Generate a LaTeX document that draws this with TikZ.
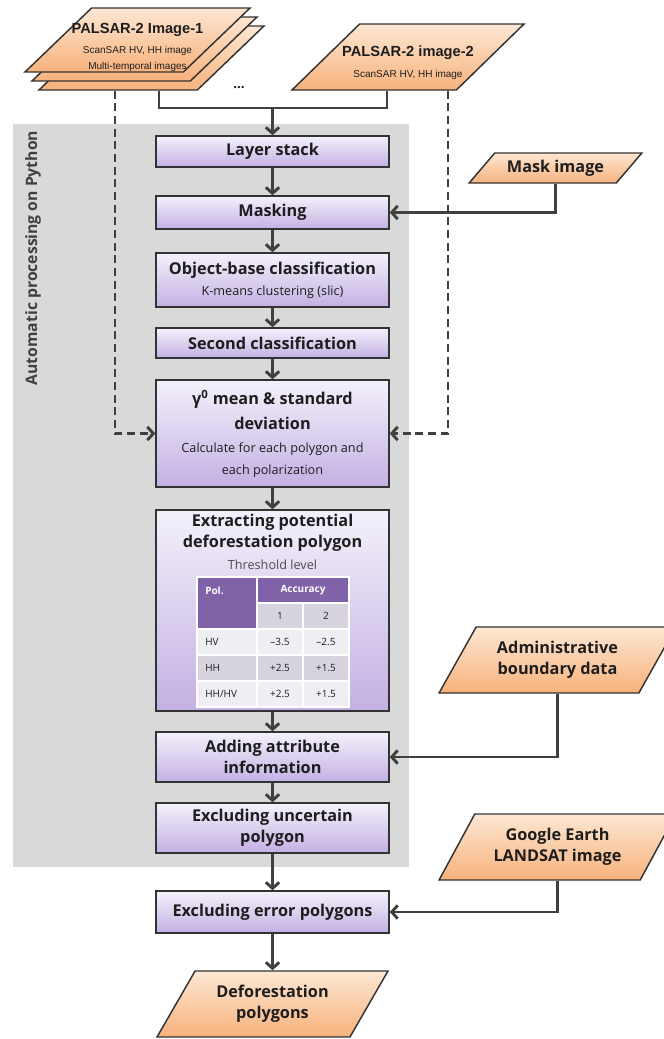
\documentclass[tikz,border=0pt]{standalone}
\usepackage{fontspec}
\setmainfont{Open Sans}
\newfontfamily\arialfont{Liberation Sans}
\usetikzlibrary{arrows.meta, shapes.geometric}

\definecolor{linegray}{HTML}{404040}
\definecolor{edgegray}{HTML}{333333}
\definecolor{bggray}{HTML}{D9D9D9}
\definecolor{procTop}{HTML}{F4F1FB}
\definecolor{procBot}{HTML}{C3B0E3}
\definecolor{dataTop}{HTML}{FDE7D3}
\definecolor{dataBot}{HTML}{F7B27C}
\definecolor{tabpurple}{HTML}{7F62A8}
\definecolor{tabgray}{HTML}{D7D4DF}
\definecolor{tablight}{HTML}{EFEEF3}
\definecolor{textdark}{HTML}{1E1E1E}

\newcommand{\ttlfont}{\fontsize{12.2}{16}\selectfont\bfseries}
\newcommand{\smallsub}{\fontsize{9.5}{16}\selectfont\mdseries}

\tikzset{
    procbox/.style={draw=edgegray, line width=1.1pt, top color=procTop, bottom color=procBot,
        minimum width=174.75pt, inner sep=2pt, align=center, text=textdark, font=\ttlfont},
    databox/.style={trapezium, trapezium stretches=true, trapezium left angle=55,
        trapezium right angle=125, draw=edgegray, line width=1.1pt, top color=dataTop,
        bottom color=dataBot, minimum height=49.5pt, inner sep=1pt, align=center,
        text=textdark, font=\ttlfont},
    sheet/.style={databox, minimum width=168.75pt, minimum height=48pt,
        trapezium left angle=54, trapezium right angle=126},
    sheettxt/.style={align=center, inner sep=0pt, text=textdark,
        font=\arialfont\fontsize{7.5}{12}\selectfont},
    flowline/.style={line width=2.2pt, draw=linegray},
    flowarrow/.style={flowline, -{Straight Barb[length=4.5pt,width=10pt]}},
    dasharrow/.style={flowarrow, dash pattern=on 6pt off 3.5pt},
    celltxt/.style={font=\fontsize{7.5}{9}\selectfont, text=textdark, inner sep=0pt},
}

\begin{document}
\begin{tikzpicture}[x=0.75pt, y=-0.75pt]
    \useasboundingbox (0,0) rectangle (664,1039);
    \fill[bggray] (13,124) rectangle (409,867);
    \node[rotate=90, font=\fontsize{11.8}{14}\selectfont\bfseries, text=linegray] (pylabel) at (33,258) {Automatic processing on Python};

    % input data
    \foreach \i/\n in {2/img1c, 1/img1b, 0/img1}
        \node[sheet] (\n) at (137.5+7*\i, 40+9*\i) {};
    \node[sheettxt] (img1txt) at (137.5,47) {{\fontsize{11}{12}\selectfont\bfseries PALSAR-2 Image-1}\\[3pt]ScanSAR HV, HH image\\Multi-temporal images};
    \node[text=textdark, font=\bfseries] (dots) at (239,88) {...};
    \node[databox, minimum width=174pt] (img2) at (408,57) {};
    \node[sheettxt] (img2txt) at (408,63) {{\fontsize{11}{12}\selectfont\bfseries PALSAR-2 image-2}\\[3.75pt]ScanSAR HV, HH image};
    \node[databox, minimum width=129.75pt, minimum height=22.5pt, trapezium left angle=42, trapezium right angle=138] (mask) at (555.5,168) {Mask image};
    \node[databox, minimum width=177.75pt] (admin) at (557.5,660) {Administrative\\boundary data};
    \node[databox, minimum width=177.75pt] (google) at (557.5,847) {Google Earth\\LANDSAT image};
    \node[databox, minimum width=173.25pt] (defor) at (272.5,1004) {Deforestation\\polygons};

    % processing steps
    \node[procbox, minimum height=23.25pt] (layer) at (272.5,151.5) {Layer stack};
    \node[procbox, minimum height=24.75pt] (masking) at (272.5,212.5) {Masking};
    \node[procbox, minimum height=40.5pt] (objbase) at (272.5,280) {Object-base classification\\{\smallsub K-means clustering (slic)}};
    \node[procbox, minimum height=22.5pt] (second) at (272.5,343) {Second classification};
    \node[procbox, minimum height=80.25pt, font=\smallsub] (gamma) at (272.5,433.5) {{\ttlfont γ\textsuperscript{0} mean \& standard}\\[3pt]{\ttlfont deviation}\\[1.5pt]Calculate for each polygon and\\each polarization};
    \node[procbox, minimum height=150.75pt] (extract) at (272.5,610.5) {};
    \node[anchor=north, align=center, font=\ttlfont, text=textdark, inner sep=2pt] (extitle) at ([yshift=-1.5pt]extract.north) {Extracting potential\\deforestation polygon\\{\smallsub\color{textdark!80} Threshold level}};
    \node[procbox, minimum height=37.5pt] (adding) at (272.5,757) {Adding attribute\\information};
    \node[procbox, minimum height=37.5pt] (uncertain) at (272.5,828) {Excluding uncertain\\polygon};
    \node[procbox, minimum height=31.5pt] (exerr) at (272.5,912) {Excluding error polygons};

    % threshold table
    \fill[white] (196,576) rectangle (350,708);
    \fill[tabpurple] (198,578) rectangle (256,628);
    \fill[tabpurple] (258,578) rectangle (348,602);
    \foreach \x in {258,304}
        \fill[tabgray] (\x,604) rectangle ++(44,24);
    \foreach \y/\c in {630/tablight, 656/tabgray, 682/tablight} {
        \fill[\c] (198,\y) rectangle ++(58,24);
        \fill[\c] (258,\y) rectangle ++(44,24);
        \fill[\c] (304,\y) rectangle ++(44,24);
    }
    \node[celltxt, text=white, font=\fontsize{7.5}{9}\selectfont\bfseries, anchor=west] (pol) at (205,591) {Pol.};
    \node[celltxt, text=white, font=\fontsize{7.5}{9}\selectfont\bfseries] (acc) at (303,590) {Accuracy};
    \node[celltxt] (col1) at (280,616) {1};
    \node[celltxt] (col2) at (326,616) {2};
    \foreach \y/\p/\u/\v in {642/HV/–3.5/–2.5, 668/HH/+2.5/+1.5, 694/{HH/HV}/+2.5/+1.5} {
        \node[celltxt, anchor=west] (p\y) at (205,\y) {\p};
        \node[celltxt] (u\y) at (280,\y) {\u};
        \node[celltxt] (v\y) at (326,\y) {\v};
    }

    % connectors
    \coordinate (j1) at (159,108);
    \coordinate (j2) at (387,108);
    \draw[flowline] (img1c.south -| j1) -- (j1) -- (j2) -- (img2.south -| j2);
    \draw[flowarrow] (layer.north |- j1) -- (layer.north);
    \foreach \a/\b in {layer/masking, masking/objbase, objbase/second, second/gamma, gamma/extract,
        extract/adding, adding/uncertain, uncertain/exerr, exerr/defor}
        \draw[flowarrow] (\a.south) -- (\b.north);
    \draw[flowarrow] (mask.south) |- (masking.east);
    \draw[flowarrow] (admin.south) |- (adding.east);
    \draw[flowarrow] (google.south) |- (exerr.east);
    \coordinate (dl) at (115,0);
    \coordinate (dr) at (448,0);
    \draw[dasharrow] (img1c.south -| dl) |- (gamma.west);
    \draw[dasharrow] (img2.south -| dr) |- (gamma.east);
\end{tikzpicture}
\end{document}
